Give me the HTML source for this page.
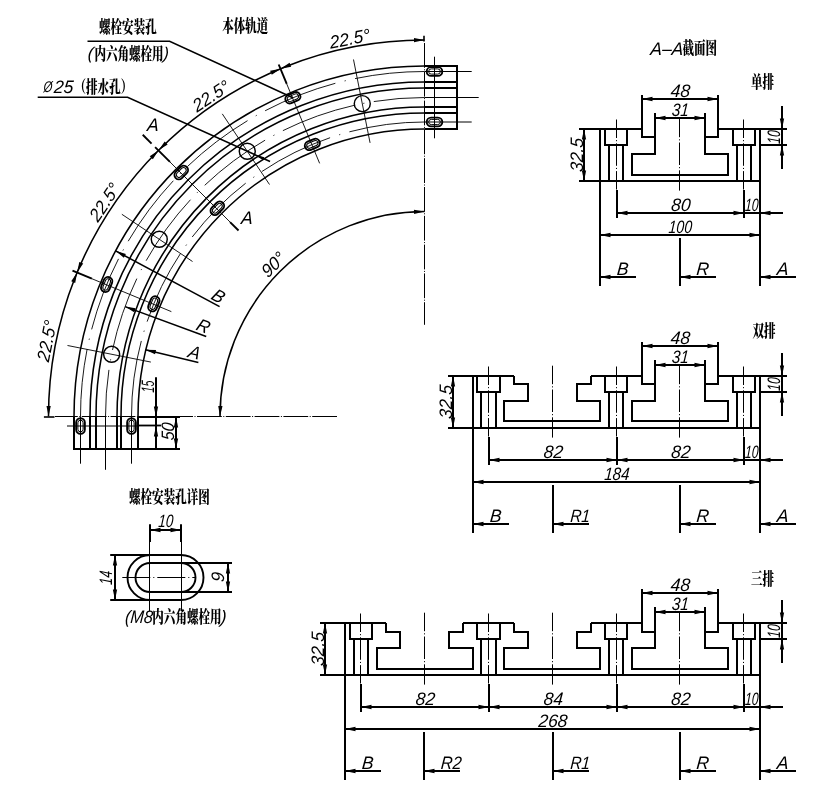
<!DOCTYPE html>
<html lang="zh"><head><meta charset="utf-8"><title>轨道图</title>
<style>
html,body{margin:0;padding:0;background:#fff}
svg{display:block;will-change:transform}
svg *{stroke:#000;fill:none;stroke-linecap:butt}
text,polygon{stroke:none!important;fill:#000!important}
.l{font-family:"Liberation Sans",sans-serif;font-style:italic}
.c{font-family:"Liberation Serif","Noto Serif CJK SC",serif;font-weight:900}
</style></head><body>
<svg width="828" height="803" viewBox="0 0 828 803">
<path d="M424.5 66A350.5 350.5 0 0 0 74 416.5" stroke-width="1.55" />
<path d="M424.5 82A334.5 334.5 0 0 0 90 416.5" stroke-width="1.55" />
<path d="M424.5 88A328.5 328.5 0 0 0 96 416.5" stroke-width="1.55" />
<path d="M424.5 107A307.5 309.5 0 0 0 117 416.5" stroke-width="1.55" />
<path d="M424.5 113A303.5 303.5 0 0 0 121 416.5" stroke-width="1.55" />
<path d="M424.5 129A286.5 287.5 0 0 0 138 416.5" stroke-width="1.55" />
<path d="M424.5 71.5A344 345 0 0 0 80.5 416.5" stroke-width="0.9" stroke-dasharray="75.5 9.5 1.2 9.5" stroke-dashoffset="5.5"/>
<path d="M424.5 97.5A319 319 0 0 0 105.5 416.5" stroke-width="0.9" stroke-dasharray="75.5 9.5 1.2 9.5" stroke-dashoffset="24.5"/>
<path d="M424.5 122A293 294.5 0 0 0 131.5 416.5" stroke-width="0.9" stroke-dasharray="76 9.5 1.2 9.5"/>
<path d="M424.5 66H457V129H424.5" stroke-width="2.0" />
<line x1="424.5" y1="82" x2="457" y2="82" stroke-width="2.0" />
<line x1="424.5" y1="88" x2="457" y2="88" stroke-width="2.0" />
<line x1="424.5" y1="107" x2="457" y2="107" stroke-width="2.0" />
<line x1="424.5" y1="113" x2="457" y2="113" stroke-width="2.0" />
<line x1="424.5" y1="71.5" x2="471.7" y2="71.5" stroke-width="1.0" />
<line x1="424.5" y1="97.5" x2="478.7" y2="97.5" stroke-width="1.0" />
<line x1="424.5" y1="122" x2="471.7" y2="122" stroke-width="1.0" />
<line x1="434.5" y1="56.7" x2="434.5" y2="138.3" stroke-width="1.0" />
<path d="M-3.45 -4.35H3.45A4.35 4.35 0 0 1 3.45 4.35H-3.45A4.35 4.35 0 0 1 -3.45 -4.35Z" stroke-width="1.9" transform="translate(434.5 71.5) rotate(0)"/>
<path d="M-3.25 -2.6H3.25A2.6 2.6 0 0 1 3.25 2.6H-3.25A2.6 2.6 0 0 1 -3.25 -2.6Z" stroke-width="1.0" transform="translate(434.5 71.5) rotate(0)"/>
<path d="M-3.45 -4.35H3.45A4.35 4.35 0 0 1 3.45 4.35H-3.45A4.35 4.35 0 0 1 -3.45 -4.35Z" stroke-width="1.9" transform="translate(434.5 122) rotate(0)"/>
<path d="M-3.25 -2.6H3.25A2.6 2.6 0 0 1 3.25 2.6H-3.25A2.6 2.6 0 0 1 -3.25 -2.6Z" stroke-width="1.0" transform="translate(434.5 122) rotate(0)"/>
<path d="M74 417V449H138V417" stroke-width="2.0" />
<line x1="90" y1="416.5" x2="90" y2="449" stroke-width="2.0" />
<line x1="96" y1="416.5" x2="96" y2="449" stroke-width="2.0" />
<line x1="117" y1="416.5" x2="117" y2="449" stroke-width="2.0" />
<line x1="121" y1="416.5" x2="121" y2="449" stroke-width="2.0" />
<line x1="80.5" y1="416.5" x2="80.5" y2="463.7" stroke-width="1.0" />
<line x1="105.5" y1="416.5" x2="105.5" y2="469.8" stroke-width="1.0" />
<line x1="131.5" y1="416.5" x2="131.5" y2="463.7" stroke-width="1.0" />
<line x1="67" y1="426" x2="138" y2="426" stroke-width="1.0" />
<path d="M-3.45 -4.35H3.45A4.35 4.35 0 0 1 3.45 4.35H-3.45A4.35 4.35 0 0 1 -3.45 -4.35Z" stroke-width="1.9" transform="translate(80.5 426) rotate(90)"/>
<path d="M-3.25 -2.6H3.25A2.6 2.6 0 0 1 3.25 2.6H-3.25A2.6 2.6 0 0 1 -3.25 -2.6Z" stroke-width="1.0" transform="translate(80.5 426) rotate(90)"/>
<path d="M-3.45 -4.35H3.45A4.35 4.35 0 0 1 3.45 4.35H-3.45A4.35 4.35 0 0 1 -3.45 -4.35Z" stroke-width="1.9" transform="translate(131.5 426) rotate(90)"/>
<path d="M-3.25 -2.6H3.25A2.6 2.6 0 0 1 3.25 2.6H-3.25A2.6 2.6 0 0 1 -3.25 -2.6Z" stroke-width="1.0" transform="translate(131.5 426) rotate(90)"/>
<line x1="138" y1="425.5" x2="161" y2="425.5" stroke-width="1.8" />
<line x1="138" y1="417" x2="180" y2="417" stroke-width="2.0" />
<line x1="138" y1="449" x2="180" y2="449" stroke-width="2.0" />
<line x1="156" y1="377.3" x2="156" y2="449" stroke-width="2.0" />
<polygon points="156,417 153.85,406.5 158.15,406.5"/>
<polygon points="156,426 158.15,436.5 153.85,436.5"/>
<line x1="176" y1="417" x2="176" y2="449" stroke-width="2.0" />
<polygon points="176,417 178.15,427.5 173.85,427.5"/>
<polygon points="176,449 173.85,438.5 178.15,438.5"/>
<text transform="translate(153.6 386.8) rotate(-90) scale(0.6 1) skewX(-5)" text-anchor="middle" class="l" font-size="18">15</text>
<text transform="translate(173.6 431.8) rotate(-90) scale(0.88 1) skewX(-5)" text-anchor="middle" class="l" font-size="18">50</text>
<line x1="424.5" y1="43" x2="424.5" y2="324.8" stroke-width="1.0" stroke-dasharray="24.8 1.5 1 1.5"/>
<line x1="424" y1="35.7" x2="424" y2="41.5" stroke-width="1.6" />
<line x1="337" y1="416.5" x2="55" y2="416.5" stroke-width="1.0" stroke-dasharray="24.8 1.5 1 1.5"/>
<line x1="43.9" y1="417" x2="54.5" y2="417" stroke-width="1.6" />
<line x1="319.64" y1="163.36" x2="286.73" y2="83.9" stroke-width="0.9" />
<line x1="286.73" y1="83.9" x2="278.7" y2="64.5" stroke-width="1.9" />
<path d="M-3.45 -4.35H3.45A4.35 4.35 0 0 1 3.45 4.35H-3.45A4.35 4.35 0 0 1 -3.45 -4.35Z" stroke-width="1.9" transform="translate(292.86 97.76) rotate(-22.5)"/>
<path d="M-3.25 -2.6H3.25A2.6 2.6 0 0 1 3.25 2.6H-3.25A2.6 2.6 0 0 1 -3.25 -2.6Z" stroke-width="1.0" transform="translate(292.86 97.76) rotate(-22.5)"/>
<path d="M-3.45 -4.35H3.45A4.35 4.35 0 0 1 3.45 4.35H-3.45A4.35 4.35 0 0 1 -3.45 -4.35Z" stroke-width="1.9" transform="translate(312.37 144.42) rotate(-22.5)"/>
<path d="M-3.25 -2.6H3.25A2.6 2.6 0 0 1 3.25 2.6H-3.25A2.6 2.6 0 0 1 -3.25 -2.6Z" stroke-width="1.0" transform="translate(312.37 144.42) rotate(-22.5)"/>
<line x1="230.75" y1="222.75" x2="169.94" y2="161.94" stroke-width="0.9" />
<line x1="169.94" y1="161.94" x2="155.09" y2="147.09" stroke-width="1.9" />
<path d="M-3.45 -4.35H3.45A4.35 4.35 0 0 1 3.45 4.35H-3.45A4.35 4.35 0 0 1 -3.45 -4.35Z" stroke-width="1.9" transform="translate(181.26 172.55) rotate(-45)"/>
<path d="M-3.25 -2.6H3.25A2.6 2.6 0 0 1 3.25 2.6H-3.25A2.6 2.6 0 0 1 -3.25 -2.6Z" stroke-width="1.0" transform="translate(181.26 172.55) rotate(-45)"/>
<path d="M-3.45 -4.35H3.45A4.35 4.35 0 0 1 3.45 4.35H-3.45A4.35 4.35 0 0 1 -3.45 -4.35Z" stroke-width="1.9" transform="translate(217.32 208.26) rotate(-45)"/>
<path d="M-3.25 -2.6H3.25A2.6 2.6 0 0 1 3.25 2.6H-3.25A2.6 2.6 0 0 1 -3.25 -2.6Z" stroke-width="1.0" transform="translate(217.32 208.26) rotate(-45)"/>
<line x1="171.36" y1="311.64" x2="91.9" y2="278.73" stroke-width="0.9" />
<line x1="91.9" y1="278.73" x2="72.5" y2="270.7" stroke-width="1.9" />
<path d="M-3.45 -4.35H3.45A4.35 4.35 0 0 1 3.45 4.35H-3.45A4.35 4.35 0 0 1 -3.45 -4.35Z" stroke-width="1.9" transform="translate(106.69 284.47) rotate(-67.5)"/>
<path d="M-3.25 -2.6H3.25A2.6 2.6 0 0 1 3.25 2.6H-3.25A2.6 2.6 0 0 1 -3.25 -2.6Z" stroke-width="1.0" transform="translate(106.69 284.47) rotate(-67.5)"/>
<path d="M-3.45 -4.35H3.45A4.35 4.35 0 0 1 3.45 4.35H-3.45A4.35 4.35 0 0 1 -3.45 -4.35Z" stroke-width="1.9" transform="translate(153.8 303.8) rotate(-67.5)"/>
<path d="M-3.25 -2.6H3.25A2.6 2.6 0 0 1 3.25 2.6H-3.25A2.6 2.6 0 0 1 -3.25 -2.6Z" stroke-width="1.0" transform="translate(153.8 303.8) rotate(-67.5)"/>
<line x1="370.07" y1="142.86" x2="353.49" y2="59.49" stroke-width="0.9" />
<circle cx="362.27" cy="103.63" r="8" stroke-width="1.45"/>
<line x1="269.5" y1="184.52" x2="222.27" y2="113.85" stroke-width="0.9" />
<circle cx="247.27" cy="151.26" r="8" stroke-width="1.45"/>
<line x1="192.52" y1="261.5" x2="121.85" y2="214.27" stroke-width="0.9" />
<circle cx="159.26" cy="239.27" r="8" stroke-width="1.45"/>
<line x1="150.86" y1="362.07" x2="67.49" y2="345.49" stroke-width="0.9" />
<circle cx="111.63" cy="354.27" r="8" stroke-width="1.45"/>
<path d="M424.5 40A376 376.5 0 0 0 48.5 416.5" stroke-width="1.55" />
<polygon points="424.5,40 414.03,42.28 413.97,37.98"/>
<polygon points="280.61,68.66 271.81,74.77 270.11,70.82"/>
<polygon points="158.63,150.27 152.83,159.29 149.76,156.29"/>
<polygon points="77.12,272.42 75.22,282.97 71.23,281.37"/>
<polygon points="280.61,68.66 289.56,62.76 291.16,66.76"/>
<polygon points="158.63,150.27 164.64,141.4 167.64,144.48"/>
<polygon points="77.12,272.42 79.28,261.92 83.23,263.62"/>
<polygon points="48.5,416.5 46.48,405.97 50.78,406.03"/>
<text transform="translate(350.56 44.78) rotate(-11.25) scale(0.97 1) skewX(-5)" text-anchor="middle" class="l" font-size="18">22.5°</text>
<text transform="translate(213.94 101.37) rotate(-33.75) scale(0.97 1) skewX(-5)" text-anchor="middle" class="l" font-size="18">22.5°</text>
<text transform="translate(109.37 205.94) rotate(-56.25) scale(0.97 1) skewX(-5)" text-anchor="middle" class="l" font-size="18">22.5°</text>
<text transform="translate(52.78 342.56) rotate(-78.75) scale(0.97 1) skewX(-5)" text-anchor="middle" class="l" font-size="18">22.5°</text>
<path d="M424.5 211.5A204.5 205 0 0 0 220 416.5" stroke-width="1.55" />
<polygon points="424.5,211.5 414.08,214.02 413.93,209.72"/>
<polygon points="220,416.5 218.22,405.93 222.52,406.08"/>
<text transform="translate(277.21 269.21) rotate(-45) scale(0.97 1) skewX(-5)" text-anchor="middle" class="l" font-size="18">90°</text>
<line x1="115.6" y1="250.87" x2="219.6" y2="306.63" stroke-width="1.55" />
<polygon points="115.6,250.87 125.87,253.94 123.84,257.73"/>
<text transform="translate(215.1 301.27) rotate(28.2) scale(0.97 1) skewX(-5)" text-anchor="middle" class="l" font-size="18">B</text>
<line x1="125.02" y1="306.61" x2="206.23" y2="336.41" stroke-width="1.55" />
<polygon points="125.02,306.61 135.62,308.21 134.14,312.25"/>
<text transform="translate(201.02 331.73) rotate(20.15) scale(0.97 1) skewX(-5)" text-anchor="middle" class="l" font-size="18">R</text>
<line x1="145.37" y1="349.74" x2="198.38" y2="362.42" stroke-width="1.55" />
<polygon points="145.37,349.74 156.08,350.1 155.08,354.28"/>
<text transform="translate(192.66 358.38) rotate(13.45) scale(0.97 1) skewX(-5)" text-anchor="middle" class="l" font-size="18">A</text>
<line x1="238.53" y1="230.53" x2="230.05" y2="222.05" stroke-width="1.9" />
<line x1="151.56" y1="143.56" x2="142.72" y2="134.72" stroke-width="1.9" />
<text transform="translate(246.5 224) scale(0.97 1) skewX(-5)" text-anchor="middle" class="l" font-size="18">A</text>
<text transform="translate(152.5 130.5) scale(0.97 1) skewX(-5)" text-anchor="middle" class="l" font-size="18">A</text>
<path d="M87.5 41.3H169.6L292.86 97.76" stroke-width="1.55" />
<path d="M37.7 97.2H127.6L270.06 161.55" stroke-width="1.55" />
<polygon points="254.56,154.55 264.34,157.21 263.02,160.13"/>
<text transform="translate(99 32.5) scale(0.7 1)" text-anchor="start" class="c" font-size="16.5">螺栓安装孔</text>
<text transform="translate(87.5 58.5) scale(0.97 1) skewX(-5)" text-anchor="start" class="l" font-size="17">(</text>
<text transform="translate(94.4 59.5) scale(0.7 1)" text-anchor="start" class="c" font-size="16.5">内六角螺栓用</text>
<text transform="translate(168.5 58.5) scale(0.97 1) skewX(-5)" text-anchor="end" class="l" font-size="17">)</text>
<text transform="translate(43.3 92.4) scale(0.74 1) skewX(-5)" text-anchor="start" class="l" font-size="15.5">Ø</text>
<text transform="translate(53.6 92.6) scale(0.97 1) skewX(-5)" text-anchor="start" class="l" font-size="18">25</text>
<text transform="translate(74.5 92.5) scale(0.7 1)" text-anchor="start" class="c" font-size="16.5">（排水孔）</text>
<text transform="translate(222.2 31.5) scale(0.7 1)" text-anchor="start" class="c" font-size="16.5">本体轨道</text>
<text transform="translate(129 503) scale(0.7 1)" text-anchor="start" class="c" font-size="16.5">螺栓安装孔详图</text>
<text transform="translate(124.7 622.5) scale(0.9 1) skewX(-5)" text-anchor="start" class="l" font-size="18">(M8</text>
<text transform="translate(152.3 623) scale(0.7 1)" text-anchor="start" class="c" font-size="16.5">内六角螺栓用</text>
<text transform="translate(226 622.5) scale(0.97 1) skewX(-5)" text-anchor="end" class="l" font-size="18">)</text>
<text transform="translate(650 54.5) scale(0.97 1) skewX(-5)" text-anchor="start" class="l" font-size="18">A–A</text>
<text transform="translate(682.5 54) scale(0.7 1)" text-anchor="start" class="c" font-size="16.5">截面图</text>
<text transform="translate(751 88) scale(0.7 1)" text-anchor="start" class="c" font-size="16.5">单排</text>
<text transform="translate(752.5 336.5) scale(0.7 1)" text-anchor="start" class="c" font-size="16.5">双排</text>
<text transform="translate(751 585) scale(0.7 1)" text-anchor="start" class="c" font-size="16.5">三排</text>
<path d="M-15.5 -22.5H15.5A22.5 22.5 0 0 1 15.5 22.5H-15.5A22.5 22.5 0 0 1 -15.5 -22.5Z" stroke-width="1.9" transform="translate(165.5 577.5) rotate(0)"/>
<path d="M-15.5 -14.5H15.5A14.5 14.5 0 0 1 15.5 14.5H-15.5A14.5 14.5 0 0 1 -15.5 -14.5Z" stroke-width="1.9" transform="translate(165.5 577.5) rotate(0)"/>
<line x1="122.3" y1="577.5" x2="195.5" y2="577.5" stroke-width="1.0" stroke-dasharray="28 3 1 3"/>
<line x1="150" y1="524.3" x2="150" y2="542" stroke-width="2.0" />
<line x1="181" y1="524.3" x2="181" y2="542" stroke-width="2.0" />
<line x1="149.5" y1="542" x2="149.5" y2="611.3" stroke-width="1.0" />
<line x1="181.5" y1="542" x2="181.5" y2="611.3" stroke-width="1.0" />
<line x1="150" y1="530" x2="181" y2="530" stroke-width="2.0" />
<polygon points="150,530 160.5,527.85 160.5,532.15"/>
<polygon points="181,530 170.5,532.15 170.5,527.85"/>
<text transform="translate(165.5 527) scale(0.75 1) skewX(-5)" text-anchor="middle" class="l" font-size="18">10</text>
<line x1="110.2" y1="555" x2="150" y2="555" stroke-width="2.0" />
<line x1="110.2" y1="600" x2="150" y2="600" stroke-width="2.0" />
<line x1="115" y1="555" x2="115" y2="600" stroke-width="2.0" />
<polygon points="115,555 117.15,565.5 112.85,565.5"/>
<polygon points="115,600 112.85,589.5 117.15,589.5"/>
<text transform="translate(112 578) rotate(-90) scale(0.7 1) skewX(-5)" text-anchor="middle" class="l" font-size="18">14</text>
<line x1="181" y1="563" x2="232" y2="563" stroke-width="2.0" />
<line x1="181" y1="592" x2="232" y2="592" stroke-width="2.0" />
<line x1="228" y1="563" x2="228" y2="592" stroke-width="2.0" />
<polygon points="228,563 230.15,573.5 225.85,573.5"/>
<polygon points="228,592 225.85,581.5 230.15,581.5"/>
<text transform="translate(224.2 577.5) rotate(-90) scale(0.97 1) skewX(-5)" text-anchor="middle" class="l" font-size="18">9</text>
<line x1="579" y1="129" x2="642" y2="129" stroke-width="2.0" />
<line x1="718" y1="129" x2="787" y2="129" stroke-width="2.0" />
<line x1="579" y1="181" x2="760" y2="181" stroke-width="2.0" />
<line x1="600" y1="129" x2="600" y2="286" stroke-width="2.0" />
<line x1="760" y1="129" x2="760" y2="286" stroke-width="2.0" />
<path d="M642 129V137H655V154H632V175H728V154H705V137H718V129" stroke-width="2.0" />
<line x1="679.5" y1="118.7" x2="679.5" y2="190.6" stroke-width="1.0" stroke-dasharray="22.5 2.1 1.1 2.1" stroke-dashoffset="4"/>
<path d="M605 129V145H627V129" stroke-width="2.0" />
<line x1="609" y1="145" x2="609" y2="181" stroke-width="2.0" />
<line x1="623" y1="145" x2="623" y2="181" stroke-width="2.0" />
<line x1="616.5" y1="119.5" x2="616.5" y2="189.5" stroke-width="1.0" stroke-dasharray="22.5 2.1 1.1 2.1" stroke-dashoffset="4"/>
<line x1="617" y1="190" x2="617" y2="218" stroke-width="2.0" />
<path d="M733 129V145H755V129" stroke-width="2.0" />
<line x1="737" y1="145" x2="737" y2="181" stroke-width="2.0" />
<line x1="751" y1="145" x2="751" y2="181" stroke-width="2.0" />
<line x1="743.5" y1="119.5" x2="743.5" y2="189.5" stroke-width="1.0" stroke-dasharray="22.5 2.1 1.1 2.1" stroke-dashoffset="4"/>
<line x1="744" y1="190" x2="744" y2="218" stroke-width="2.0" />
<line x1="642" y1="95" x2="642" y2="129" stroke-width="2.0" />
<line x1="718" y1="95" x2="718" y2="129" stroke-width="2.0" />
<line x1="642" y1="99" x2="718" y2="99" stroke-width="2.0" />
<polygon points="642,99 652.5,96.85 652.5,101.15"/>
<polygon points="718,99 707.5,101.15 707.5,96.85"/>
<text transform="translate(680 96.7) scale(0.97 1) skewX(-5)" text-anchor="middle" class="l" font-size="18">48</text>
<line x1="655" y1="113" x2="655" y2="137" stroke-width="2.0" />
<line x1="705" y1="113" x2="705" y2="137" stroke-width="2.0" />
<line x1="655" y1="118" x2="705" y2="118" stroke-width="2.0" />
<polygon points="655,118 665.5,115.85 665.5,120.15"/>
<polygon points="705,118 694.5,120.15 694.5,115.85"/>
<text transform="translate(680 115.5) scale(0.85 1) skewX(-5)" text-anchor="middle" class="l" font-size="18">31</text>
<line x1="760" y1="145" x2="787" y2="145" stroke-width="2.0" />
<line x1="782" y1="106" x2="782" y2="169" stroke-width="2.0" />
<polygon points="782,129 779.85,118.5 784.15,118.5"/>
<polygon points="782,145 784.15,155.5 779.85,155.5"/>
<text transform="translate(779.8 137.3) rotate(-90) scale(0.67 1) skewX(-5)" text-anchor="middle" class="l" font-size="18">10</text>
<line x1="584" y1="129" x2="584" y2="181" stroke-width="2.0" />
<polygon points="584,129 586.15,139.5 581.85,139.5"/>
<polygon points="584,181 581.85,170.5 586.15,170.5"/>
<text transform="translate(582.7 155.3) rotate(-90) scale(0.97 1) skewX(-5)" text-anchor="middle" class="l" font-size="18">32.5</text>
<line x1="617" y1="213" x2="783" y2="213" stroke-width="2.0" />
<polygon points="617,213 627.5,210.85 627.5,215.15"/>
<polygon points="744,213 733.5,215.15 733.5,210.85"/>
<text transform="translate(680.5 211) scale(0.97 1) skewX(-5)" text-anchor="middle" class="l" font-size="18">80</text>
<polygon points="760,213 770.5,210.85 770.5,215.15"/>
<text transform="translate(751.4 211) scale(0.67 1) skewX(-5)" text-anchor="middle" class="l" font-size="18">10</text>
<line x1="600" y1="235" x2="760" y2="235" stroke-width="2.0" />
<polygon points="600,235 610.5,232.85 610.5,237.15"/>
<polygon points="760,235 749.5,237.15 749.5,232.85"/>
<text transform="translate(680 232.6) scale(0.78 1) skewX(-5)" text-anchor="middle" class="l" font-size="18">100</text>
<line x1="600" y1="277" x2="636" y2="277" stroke-width="2.0" />
<polygon points="600,277 610.5,274.85 610.5,279.15"/>
<text transform="translate(622.2 275) scale(0.97 1) skewX(-5)" text-anchor="middle" class="l" font-size="18">B</text>
<line x1="680" y1="238" x2="680" y2="286" stroke-width="2.0" />
<line x1="680" y1="277" x2="716" y2="277" stroke-width="2.0" />
<polygon points="680,277 690.5,274.85 690.5,279.15"/>
<text transform="translate(702.2 275) scale(0.97 1) skewX(-5)" text-anchor="middle" class="l" font-size="18">R</text>
<line x1="760" y1="277" x2="796" y2="277" stroke-width="2.0" />
<polygon points="760,277 770.5,274.85 770.5,279.15"/>
<text transform="translate(782.2 275) scale(0.97 1) skewX(-5)" text-anchor="middle" class="l" font-size="18">A</text>
<line x1="448" y1="376" x2="514" y2="376" stroke-width="2.0" />
<line x1="591" y1="376" x2="642" y2="376" stroke-width="2.0" />
<line x1="718" y1="376" x2="787" y2="376" stroke-width="2.0" />
<line x1="448" y1="428" x2="760" y2="428" stroke-width="2.0" />
<line x1="473" y1="376" x2="473" y2="533" stroke-width="2.0" />
<line x1="760" y1="376" x2="760" y2="533" stroke-width="2.0" />
<path d="M514 376V384H528V401H504V421H600V401H577V384H591V376" stroke-width="2.0" />
<line x1="552.5" y1="365.7" x2="552.5" y2="437.6" stroke-width="1.0" stroke-dasharray="22.5 2.1 1.1 2.1" stroke-dashoffset="4"/>
<path d="M642 376V384H655V401H632V421H728V401H705V384H718V376" stroke-width="2.0" />
<line x1="679.5" y1="365.7" x2="679.5" y2="437.6" stroke-width="1.0" stroke-dasharray="22.5 2.1 1.1 2.1" stroke-dashoffset="4"/>
<path d="M477 376V392H500V376" stroke-width="2.0" />
<line x1="481" y1="392" x2="481" y2="428" stroke-width="2.0" />
<line x1="496" y1="392" x2="496" y2="428" stroke-width="2.0" />
<line x1="488.5" y1="366.5" x2="488.5" y2="436.5" stroke-width="1.0" stroke-dasharray="22.5 2.1 1.1 2.1" stroke-dashoffset="4"/>
<line x1="489" y1="437" x2="489" y2="465" stroke-width="2.0" />
<path d="M605 376V392H627V376" stroke-width="2.0" />
<line x1="609" y1="392" x2="609" y2="428" stroke-width="2.0" />
<line x1="623" y1="392" x2="623" y2="428" stroke-width="2.0" />
<line x1="616.5" y1="366.5" x2="616.5" y2="436.5" stroke-width="1.0" stroke-dasharray="22.5 2.1 1.1 2.1" stroke-dashoffset="4"/>
<line x1="617" y1="437" x2="617" y2="465" stroke-width="2.0" />
<path d="M733 376V392H755V376" stroke-width="2.0" />
<line x1="737" y1="392" x2="737" y2="428" stroke-width="2.0" />
<line x1="751" y1="392" x2="751" y2="428" stroke-width="2.0" />
<line x1="743.5" y1="366.5" x2="743.5" y2="436.5" stroke-width="1.0" stroke-dasharray="22.5 2.1 1.1 2.1" stroke-dashoffset="4"/>
<line x1="744" y1="437" x2="744" y2="465" stroke-width="2.0" />
<line x1="642" y1="342" x2="642" y2="376" stroke-width="2.0" />
<line x1="718" y1="342" x2="718" y2="376" stroke-width="2.0" />
<line x1="642" y1="346" x2="718" y2="346" stroke-width="2.0" />
<polygon points="642,346 652.5,343.85 652.5,348.15"/>
<polygon points="718,346 707.5,348.15 707.5,343.85"/>
<text transform="translate(680 343.7) scale(0.97 1) skewX(-5)" text-anchor="middle" class="l" font-size="18">48</text>
<line x1="655" y1="360" x2="655" y2="384" stroke-width="2.0" />
<line x1="705" y1="360" x2="705" y2="384" stroke-width="2.0" />
<line x1="655" y1="365" x2="705" y2="365" stroke-width="2.0" />
<polygon points="655,365 665.5,362.85 665.5,367.15"/>
<polygon points="705,365 694.5,367.15 694.5,362.85"/>
<text transform="translate(680 362.5) scale(0.85 1) skewX(-5)" text-anchor="middle" class="l" font-size="18">31</text>
<line x1="760" y1="392" x2="787" y2="392" stroke-width="2.0" />
<line x1="782" y1="353" x2="782" y2="416" stroke-width="2.0" />
<polygon points="782,376 779.85,365.5 784.15,365.5"/>
<polygon points="782,392 784.15,402.5 779.85,402.5"/>
<text transform="translate(779.8 384.3) rotate(-90) scale(0.67 1) skewX(-5)" text-anchor="middle" class="l" font-size="18">10</text>
<line x1="453" y1="376" x2="453" y2="428" stroke-width="2.0" />
<polygon points="453,376 455.15,386.5 450.85,386.5"/>
<polygon points="453,428 450.85,417.5 455.15,417.5"/>
<text transform="translate(451.7 402.3) rotate(-90) scale(0.97 1) skewX(-5)" text-anchor="middle" class="l" font-size="18">32.5</text>
<line x1="489" y1="460" x2="783" y2="460" stroke-width="2.0" />
<polygon points="489,460 499.5,457.85 499.5,462.15"/>
<polygon points="617,460 606.5,462.15 606.5,457.85"/>
<text transform="translate(553 458) scale(0.97 1) skewX(-5)" text-anchor="middle" class="l" font-size="18">82</text>
<polygon points="617,460 627.5,457.85 627.5,462.15"/>
<polygon points="744,460 733.5,462.15 733.5,457.85"/>
<text transform="translate(680.5 458) scale(0.97 1) skewX(-5)" text-anchor="middle" class="l" font-size="18">82</text>
<polygon points="760,460 770.5,457.85 770.5,462.15"/>
<text transform="translate(751.4 458) scale(0.67 1) skewX(-5)" text-anchor="middle" class="l" font-size="18">10</text>
<line x1="473" y1="482" x2="760" y2="482" stroke-width="2.0" />
<polygon points="473,482 483.5,479.85 483.5,484.15"/>
<polygon points="760,482 749.5,484.15 749.5,479.85"/>
<text transform="translate(616.5 479.6) scale(0.84 1) skewX(-5)" text-anchor="middle" class="l" font-size="18">184</text>
<line x1="473" y1="524" x2="509" y2="524" stroke-width="2.0" />
<polygon points="473,524 483.5,521.85 483.5,526.15"/>
<text transform="translate(495.2 522) scale(0.97 1) skewX(-5)" text-anchor="middle" class="l" font-size="18">B</text>
<line x1="553" y1="485" x2="553" y2="533" stroke-width="2.0" />
<line x1="553" y1="524" x2="589" y2="524" stroke-width="2.0" />
<polygon points="553,524 563.5,521.85 563.5,526.15"/>
<text transform="translate(579.8 522) scale(0.86 1) skewX(-5)" text-anchor="middle" class="l" font-size="18">R1</text>
<line x1="680" y1="485" x2="680" y2="533" stroke-width="2.0" />
<line x1="680" y1="524" x2="716" y2="524" stroke-width="2.0" />
<polygon points="680,524 690.5,521.85 690.5,526.15"/>
<text transform="translate(702.2 522) scale(0.97 1) skewX(-5)" text-anchor="middle" class="l" font-size="18">R</text>
<line x1="760" y1="524" x2="796" y2="524" stroke-width="2.0" />
<polygon points="760,524 770.5,521.85 770.5,526.15"/>
<text transform="translate(782.2 522) scale(0.97 1) skewX(-5)" text-anchor="middle" class="l" font-size="18">A</text>
<line x1="320" y1="623" x2="386" y2="623" stroke-width="2.0" />
<line x1="463" y1="623" x2="514" y2="623" stroke-width="2.0" />
<line x1="591" y1="623" x2="642" y2="623" stroke-width="2.0" />
<line x1="718" y1="623" x2="787" y2="623" stroke-width="2.0" />
<line x1="320" y1="675" x2="760" y2="675" stroke-width="2.0" />
<line x1="345" y1="623" x2="345" y2="780" stroke-width="2.0" />
<line x1="760" y1="623" x2="760" y2="780" stroke-width="2.0" />
<path d="M386 623V632H400V648H377V669H473V648H449V632H463V623" stroke-width="2.0" />
<line x1="424.5" y1="612.7" x2="424.5" y2="684.6" stroke-width="1.0" stroke-dasharray="22.5 2.1 1.1 2.1" stroke-dashoffset="4"/>
<path d="M514 623V632H528V648H504V669H600V648H577V632H591V623" stroke-width="2.0" />
<line x1="552.5" y1="612.7" x2="552.5" y2="684.6" stroke-width="1.0" stroke-dasharray="22.5 2.1 1.1 2.1" stroke-dashoffset="4"/>
<path d="M642 623V632H655V648H632V669H728V648H705V632H718V623" stroke-width="2.0" />
<line x1="679.5" y1="612.7" x2="679.5" y2="684.6" stroke-width="1.0" stroke-dasharray="22.5 2.1 1.1 2.1" stroke-dashoffset="4"/>
<path d="M350 623V639H372V623" stroke-width="2.0" />
<line x1="354" y1="639" x2="354" y2="675" stroke-width="2.0" />
<line x1="368" y1="639" x2="368" y2="675" stroke-width="2.0" />
<line x1="360.5" y1="613.5" x2="360.5" y2="683.5" stroke-width="1.0" stroke-dasharray="22.5 2.1 1.1 2.1" stroke-dashoffset="4"/>
<line x1="361" y1="684" x2="361" y2="712" stroke-width="2.0" />
<path d="M477 623V639H500V623" stroke-width="2.0" />
<line x1="481" y1="639" x2="481" y2="675" stroke-width="2.0" />
<line x1="496" y1="639" x2="496" y2="675" stroke-width="2.0" />
<line x1="488.5" y1="613.5" x2="488.5" y2="683.5" stroke-width="1.0" stroke-dasharray="22.5 2.1 1.1 2.1" stroke-dashoffset="4"/>
<line x1="489" y1="684" x2="489" y2="712" stroke-width="2.0" />
<path d="M605 623V639H627V623" stroke-width="2.0" />
<line x1="609" y1="639" x2="609" y2="675" stroke-width="2.0" />
<line x1="623" y1="639" x2="623" y2="675" stroke-width="2.0" />
<line x1="616.5" y1="613.5" x2="616.5" y2="683.5" stroke-width="1.0" stroke-dasharray="22.5 2.1 1.1 2.1" stroke-dashoffset="4"/>
<line x1="617" y1="684" x2="617" y2="712" stroke-width="2.0" />
<path d="M733 623V639H755V623" stroke-width="2.0" />
<line x1="737" y1="639" x2="737" y2="675" stroke-width="2.0" />
<line x1="751" y1="639" x2="751" y2="675" stroke-width="2.0" />
<line x1="743.5" y1="613.5" x2="743.5" y2="683.5" stroke-width="1.0" stroke-dasharray="22.5 2.1 1.1 2.1" stroke-dashoffset="4"/>
<line x1="744" y1="684" x2="744" y2="712" stroke-width="2.0" />
<line x1="642" y1="589" x2="642" y2="623" stroke-width="2.0" />
<line x1="718" y1="589" x2="718" y2="623" stroke-width="2.0" />
<line x1="642" y1="593" x2="718" y2="593" stroke-width="2.0" />
<polygon points="642,593 652.5,590.85 652.5,595.15"/>
<polygon points="718,593 707.5,595.15 707.5,590.85"/>
<text transform="translate(680 590.7) scale(0.97 1) skewX(-5)" text-anchor="middle" class="l" font-size="18">48</text>
<line x1="655" y1="607" x2="655" y2="632" stroke-width="2.0" />
<line x1="705" y1="607" x2="705" y2="632" stroke-width="2.0" />
<line x1="655" y1="612" x2="705" y2="612" stroke-width="2.0" />
<polygon points="655,612 665.5,609.85 665.5,614.15"/>
<polygon points="705,612 694.5,614.15 694.5,609.85"/>
<text transform="translate(680 609.5) scale(0.85 1) skewX(-5)" text-anchor="middle" class="l" font-size="18">31</text>
<line x1="760" y1="639" x2="787" y2="639" stroke-width="2.0" />
<line x1="782" y1="600" x2="782" y2="663" stroke-width="2.0" />
<polygon points="782,623 779.85,612.5 784.15,612.5"/>
<polygon points="782,639 784.15,649.5 779.85,649.5"/>
<text transform="translate(779.8 631.3) rotate(-90) scale(0.67 1) skewX(-5)" text-anchor="middle" class="l" font-size="18">10</text>
<line x1="325" y1="623" x2="325" y2="675" stroke-width="2.0" />
<polygon points="325,623 327.15,633.5 322.85,633.5"/>
<polygon points="325,675 322.85,664.5 327.15,664.5"/>
<text transform="translate(323.7 649.3) rotate(-90) scale(0.97 1) skewX(-5)" text-anchor="middle" class="l" font-size="18">32.5</text>
<line x1="361" y1="707" x2="783" y2="707" stroke-width="2.0" />
<polygon points="361,707 371.5,704.85 371.5,709.15"/>
<polygon points="489,707 478.5,709.15 478.5,704.85"/>
<text transform="translate(425 705) scale(0.97 1) skewX(-5)" text-anchor="middle" class="l" font-size="18">82</text>
<polygon points="489,707 499.5,704.85 499.5,709.15"/>
<polygon points="617,707 606.5,709.15 606.5,704.85"/>
<text transform="translate(553 705) scale(0.97 1) skewX(-5)" text-anchor="middle" class="l" font-size="18">84</text>
<polygon points="617,707 627.5,704.85 627.5,709.15"/>
<polygon points="744,707 733.5,709.15 733.5,704.85"/>
<text transform="translate(680.5 705) scale(0.97 1) skewX(-5)" text-anchor="middle" class="l" font-size="18">82</text>
<polygon points="760,707 770.5,704.85 770.5,709.15"/>
<text transform="translate(751.4 705) scale(0.67 1) skewX(-5)" text-anchor="middle" class="l" font-size="18">10</text>
<line x1="345" y1="729" x2="760" y2="729" stroke-width="2.0" />
<polygon points="345,729 355.5,726.85 355.5,731.15"/>
<polygon points="760,729 749.5,731.15 749.5,726.85"/>
<text transform="translate(552.5 726.6) scale(0.97 1) skewX(-5)" text-anchor="middle" class="l" font-size="18">268</text>
<line x1="345" y1="771" x2="381" y2="771" stroke-width="2.0" />
<polygon points="345,771 355.5,768.85 355.5,773.15"/>
<text transform="translate(367.2 769) scale(0.97 1) skewX(-5)" text-anchor="middle" class="l" font-size="18">B</text>
<line x1="424" y1="732" x2="424" y2="780" stroke-width="2.0" />
<line x1="424" y1="771" x2="460" y2="771" stroke-width="2.0" />
<polygon points="424,771 434.5,768.85 434.5,773.15"/>
<text transform="translate(450.8 769) scale(0.9 1) skewX(-5)" text-anchor="middle" class="l" font-size="18">R2</text>
<line x1="553" y1="732" x2="553" y2="780" stroke-width="2.0" />
<line x1="553" y1="771" x2="589" y2="771" stroke-width="2.0" />
<polygon points="553,771 563.5,768.85 563.5,773.15"/>
<text transform="translate(579.8 769) scale(0.86 1) skewX(-5)" text-anchor="middle" class="l" font-size="18">R1</text>
<line x1="680" y1="732" x2="680" y2="780" stroke-width="2.0" />
<line x1="680" y1="771" x2="716" y2="771" stroke-width="2.0" />
<polygon points="680,771 690.5,768.85 690.5,773.15"/>
<text transform="translate(702.2 769) scale(0.97 1) skewX(-5)" text-anchor="middle" class="l" font-size="18">R</text>
<line x1="760" y1="771" x2="796" y2="771" stroke-width="2.0" />
<polygon points="760,771 770.5,768.85 770.5,773.15"/>
<text transform="translate(782.2 769) scale(0.97 1) skewX(-5)" text-anchor="middle" class="l" font-size="18">A</text>
</svg>
</body></html>
